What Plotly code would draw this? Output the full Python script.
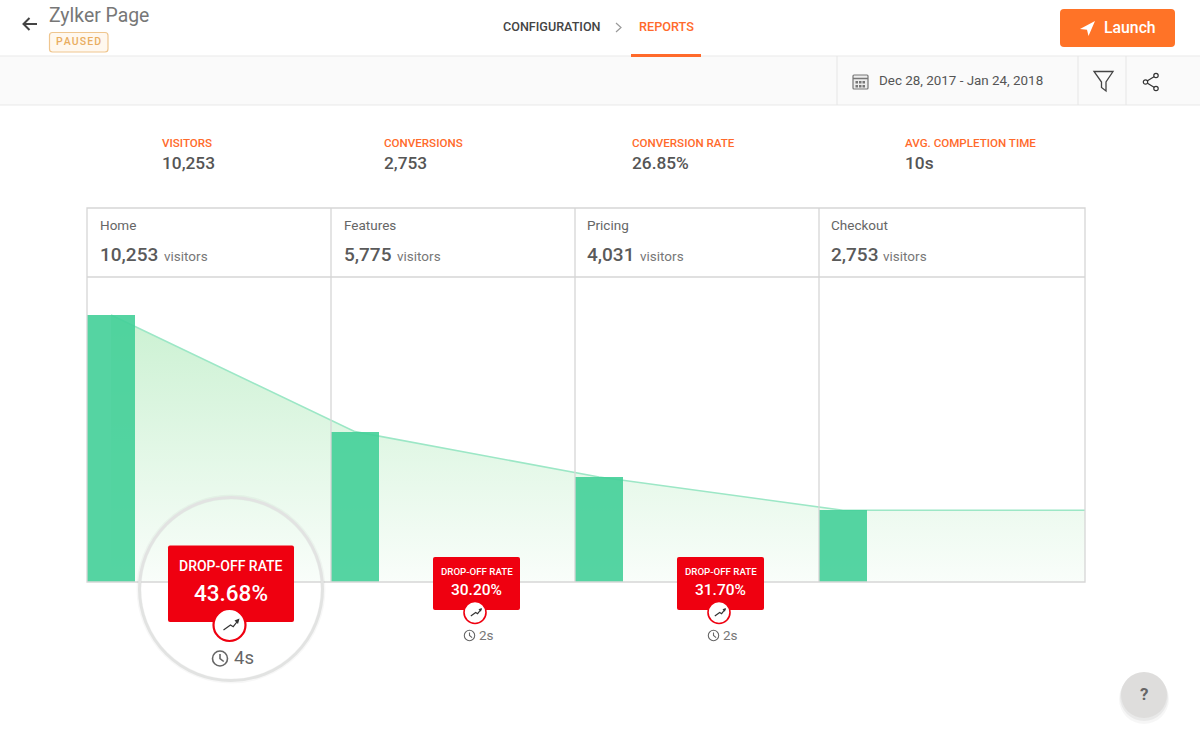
import plotly.graph_objects as go

# ---- data ----
stages = ["Home", "Features", "Pricing", "Checkout"]
visitors = [10253, 5775, 4031, 2753]
visitor_labels = ["10,253", "5,775", "4,031", "2,753"]
drop_rates = ["43.68%", "30.20%", "31.70%"]
step_times = ["4s", "2s", "2s"]
kpi_names = ["VISITORS", "CONVERSIONS", "CONVERSION RATE", "AVG. COMPLETION TIME"]
kpi_values = ["10,253", "2,753", "26.85%", "10s"]

# ---- layout constants (page pixels) ----
W, H = 1200, 731
PL, PR, PT, PB = 87, 1085, 277, 582
CELL = 244
BAR_PX = 48
FONT = "Roboto"
ORANGE = "#ff6a2b"
RED = "#ef0010"
GRID = "#d6d6d6"
BAR = "rgba(66,207,152,0.9)"

unit_per_px = 10253 / 267
cell_x = [PL + i * CELL for i in range(4)]
bar_x = [i + BAR_PX / 2 / CELL for i in range(4)]
x_end = (PR - PL) / CELL

fig = go.Figure()
fig.add_scatter(
    x=bar_x + [x_end], y=visitors + [visitors[-1]], mode="lines",
    line=dict(color="#9ce7c6", width=1.6, shape="linear"),
    fill="tozeroy", fillcolor="rgba(110,216,130,0.3)",
    fillgradient=dict(type="vertical",
                      colorscale=[[0, "rgba(110,216,130,0.04)"], [1, "rgba(110,216,130,0.36)"]],
                      start=0, stop=visitors[0]),
    hoverinfo="skip", showlegend=False)
fig.add_bar(x=bar_x, y=visitors, width=BAR_PX / CELL, marker=dict(color=BAR, line=dict(width=0)),
            xaxis="x3", yaxis="y3", hoverinfo="skip", showlegend=False)

shapes, notes = [], []


def rect(x0, y0, x1, y1, fill=None, line=None, lw=1, layer="above"):
    shapes.append(dict(type="rect", xref="x2", yref="y2", x0=x0, y0=y0, x1=x1, y1=y1, layer=layer,
                       fillcolor=fill or "rgba(0,0,0,0)",
                       line=dict(color=line or "rgba(0,0,0,0)", width=lw if line else 0)))


def seg(x0, y0, x1, y1, color=GRID, lw=1, layer="below"):
    shapes.append(dict(type="line", xref="x2", yref="y2", x0=x0, y0=y0, x1=x1, y1=y1, layer=layer,
                       line=dict(color=color, width=lw)))


def circ(cx, cy, r, fill=None, line=None, lw=1, layer="above"):
    shapes.append(dict(type="circle", xref="x2", yref="y2", x0=cx - r, x1=cx + r, y0=cy - r, y1=cy + r,
                       layer=layer, fillcolor=fill or "rgba(0,0,0,0)",
                       line=dict(color=line or "rgba(0,0,0,0)", width=lw if line else 0)))


def path(d, fill=None, line=None, lw=1, layer="above"):
    shapes.append(dict(type="path", xref="x2", yref="y2", path=d, layer=layer,
                       fillcolor=fill or "rgba(0,0,0,0)",
                       line=dict(color=line or "rgba(0,0,0,0)", width=lw if line else 0)))


def rrect(x0, y0, x1, y1, r):
    return (f"M{x0 + r},{y0} L{x1 - r},{y0} Q{x1},{y0} {x1},{y0 + r} L{x1},{y1 - r} Q{x1},{y1} {x1 - r},{y1} "
            f"L{x0 + r},{y1} Q{x0},{y1} {x0},{y1 - r} L{x0},{y0 + r} Q{x0},{y0} {x0 + r},{y0} Z")


def text(x, y, s, size, color, weight=400, anchor="left"):
    notes.append(dict(xref="x2", yref="y2", x=x, y=y, text=s, showarrow=False, xanchor=anchor, yanchor="middle",
                      xshift=-1 if anchor == "left" else 0, yshift=0.7, borderpad=0,
                      font=dict(family=FONT, size=size, color=color, weight=weight)))


# ---- top bar / toolbar ----
rect(0, 56, W, 105, fill="#fafafa", layer="below")
seg(0, 56, W, 56, "#e9e9e9")
seg(0, 105, W, 105, "#e9e9e9")
for sx in (837, 1078, 1126):
    seg(sx, 56, sx, 105, "#e6e6e6")
rect(631, 54, 701, 57, fill=ORANGE)
path("M37,24 L24,24 M29.5,18 L23.5,24 L29.5,30", line="#444444", lw=2)
text(49, 16, "Zylker Page", 19.4, "#777777")
path(rrect(49.5, 32.5, 108, 52, 3), fill="#fff8ef", line="#efc68f", lw=1.2)
text(78.7, 42, "P A U S E D".replace(" ", "\u200a"), 10.5, "#e9ad60", 500, "center")
text(503, 27, "CONFIGURATION", 12.6, "#444444", 500)
path("M616,23 L621,27.5 L616,32", line="#999999", lw=1.2)
text(639, 27, "REPORTS", 12.7, ORANGE, 500)
path(rrect(1060, 9, 1175, 47, 4), fill="#ff7327")
path("M1095,21 L1080,29 L1087,29.7 L1088.5,36 Z", fill="#ffffff")
text(1104, 28, "Launch", 15.8, "#ffffff", 500)

# calendar, filter, share icons
path(rrect(853, 75, 868, 89, 1), fill="#eeeeee", line="#777777", lw=1.2)
seg(853, 78.5, 868, 78.5, "#777777", 1.5, "above")
for gx in (855.5, 859, 862.5):
    for gy in (81, 85):
        rect(gx, gy, gx + 2.5, gy + 2.5, fill="#777777")
text(879, 81, "Dec 28, 2017 - Jan 24, 2018", 13.4, "#555555")
path("M1094,71.5 L1113,71.5 L1106,82 L1106,91 L1101.5,87.5 L1101.5,82 Z", line="#444444", lw=1.3)
path("M1156,75.5 L1145.5,82 L1156,88.5", line="#333333", lw=1.2)
for sx, sy in ((1156, 75.5), (1145.5, 82), (1156, 88.5)):
    circ(sx, sy, 2.2, fill="#ffffff", line="#333333", lw=1.2)

# ---- KPI row ----
for kx, name, val in zip((162, 384, 632, 905), kpi_names, kpi_values):
    text(kx, 143.5, name, 11.6, ORANGE, 500)
    text(kx, 163.5, val, 17.3, "#555555", 500)

# ---- table frame ----
rect(PL, 208, PR, PB, line=GRID, lw=1.3, layer="below")
seg(PL, PT, PR, PT, GRID, 1.3)
for cx in cell_x[1:]:
    seg(cx, 208, cx, PB, GRID, 1.3)
vis_x = [164, 397, 640, 883]
label_x = [100, 343.5, 587, 830.5]
for lx, name, lab, vx in zip(label_x, stages, visitor_labels, vis_x):
    text(lx, 226, name, 13.5, "#666666")
    text(lx, 255, lab, 19, "#5a5a5a", 500)
    text(vx, 257, "visitors", 13.5, "#777777")

# ---- highlight ring ----
circ(231, 589, 92, line="rgba(0,0,0,0.03)", lw=5)
circ(231, 589, 91.5, line="#e2e3e2", lw=3)


def trend(cx, cy, k):
    pts = [(-6, 5), (1, 0), (3.7, 1.7), (9, -5)]
    d = "M" + " L".join(f"{cx + k * a},{cy + k * b}" for a, b in pts)
    path(d, line="#333333", lw=1.2)
    path(f"M{cx + k * 10},{cy - k * 6.5} L{cx + k * 5},{cy - k * 4.5} L{cx + k * 8.5},{cy - k * 1} Z", fill="#333333")


def clock(cx, cy, r):
    circ(cx, cy, r, line="#666666", lw=1.6 if r > 6 else 1.1)
    path(f"M{cx},{cy - r * 0.6} L{cx},{cy} L{cx + r * 0.5},{cy + r * 0.4}", line="#666666", lw=1.6 if r > 6 else 1.1)


# ---- big drop-off badge ----
path(rrect(168, 545.5, 294, 622, 2), fill=RED)
text(231, 567, "DROP-OFF RATE", 14, "#ffffff", 500, "center")
text(231, 594, drop_rates[0], 22.5, "#ffffff", 500, "center")
circ(229.5, 625, 16, fill="#ffffff", line=RED, lw=2.2)
trend(229.5, 625, 1)
clock(220, 658.5, 7.5)
text(234, 659, step_times[0], 18.5, "#666666")

# ---- small drop-off badges ----
for bx, rate, tm in zip((433, 677), drop_rates[1:], step_times[1:]):
    path(rrect(bx, 557, bx + 87, 610, 2), fill=RED)
    text(bx + 44, 572, "DROP-OFF RATE", 9.7, "#ffffff", 500, "center")
    text(bx + 43.5, 590.5, rate, 15.5, "#ffffff", 500, "center")
    circ(bx + 42, 612.5, 11, fill="#ffffff", line=RED, lw=1.6)
    trend(bx + 42, 612.5, 0.7)
    clock(bx + 36.5, 635.5, 5.2)
    text(bx + 46, 636, tm, 13.5, "#777777")

# ---- help button ----
circ(1144, 699, 25, fill="rgba(0,0,0,0.035)")
circ(1144, 697, 24, fill="rgba(0,0,0,0.05)")
circ(1144, 695, 23, fill="#dedddc")
text(1144, 695, "?", 17, "#666666", 700, "center")

fig.update_layout(
    width=W, height=H, margin=dict(l=0, r=0, t=0, b=0), autosize=False,
    paper_bgcolor="#ffffff", plot_bgcolor="rgba(0,0,0,0)", showlegend=False, bargap=0,
    xaxis=dict(domain=[PL / W, PR / W], range=[0, x_end], visible=False, fixedrange=True),
    yaxis=dict(domain=[1 - PB / H, 1 - PT / H], range=[0, (PB - PT) * unit_per_px], visible=False, fixedrange=True),
    xaxis3=dict(overlaying="x", range=[0, x_end], visible=False, anchor="y3", fixedrange=True),
    yaxis3=dict(overlaying="y", range=[0, (PB - PT) * unit_per_px], visible=False, anchor="x3", fixedrange=True),
    xaxis2=dict(domain=[0, 1], range=[0, W], visible=False, anchor="y2", fixedrange=True),
    yaxis2=dict(domain=[0, 1], range=[H, 0], visible=False, anchor="x2", fixedrange=True),
    shapes=shapes, annotations=notes,
)

fig.write_html("out.html", config=dict(displayModeBar=False),
               post_script="document.body.style.margin='0';document.body.style.overflow='hidden';")
